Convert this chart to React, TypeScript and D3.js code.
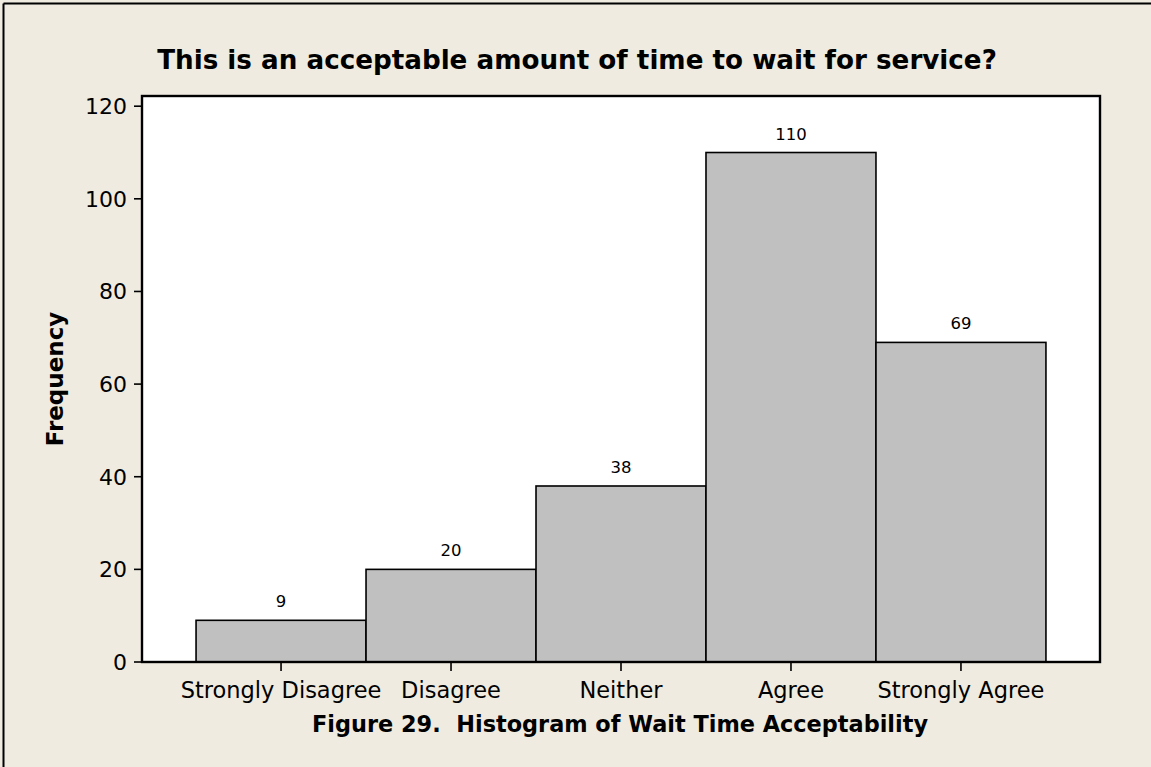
import React from "react";
import * as d3 from "d3";

const categories = ["Strongly Disagree", "Disagree", "Neither", "Agree", "Strongly Agree"];
const frequencies = [9, 20, 38, 110, 69];
const yTicks = [0, 20, 40, 60, 80, 100, 120];
const title = "This is an acceptable amount of time to wait for service?";
const caption = "Figure 29.  Histogram of Wait Time Acceptability";
const yLabel = "Frequency";

const W = 1151;
const H = 767;
const plot = { left: 142, right: 1100, top: 96, bottom: 662 };
const font = "'DejaVu Sans', Verdana, sans-serif";

export default function App() {
  const x = d3
    .scaleBand<string>()
    .domain(categories)
    .range([plot.left, plot.right])
    .paddingInner(0)
    .paddingOuter(0.318);
  const y = d3.scaleLinear().domain([0, 122.2]).range([plot.bottom, plot.top]);

  return (
    <svg
      width={W}
      height={H}
      style={{ position: "absolute", left: 0, top: 0 }}
      fontFamily={font}
    >
      <rect x={0} y={0} width={W} height={H} fill="#EFEBE1" />
      <line x1={3.5} y1={3.5} x2={W + 5} y2={3.5} stroke="#000" strokeWidth={2} />
      <line x1={3.5} y1={3.5} x2={3.5} y2={H + 5} stroke="#000" strokeWidth={2} />

      <text x={577} y={69} textAnchor="middle" fontSize={26.2} fontWeight="bold" fill="#000">
        {title}
      </text>

      <rect
        x={plot.left}
        y={plot.top}
        width={plot.right - plot.left}
        height={plot.bottom - plot.top}
        fill="#fff"
      />

      {categories.map((c, i) => (
        <g key={c}>
          <rect
            x={x(c)}
            y={y(frequencies[i])}
            width={x.bandwidth()}
            height={y(0) - y(frequencies[i])}
            fill="#C0C0C0"
            stroke="#000"
            strokeWidth={1.6}
          />
          <text
            x={(x(c) as number) + x.bandwidth() / 2}
            y={y(frequencies[i]) - 13}
            textAnchor="middle"
            fontSize={16.5}
            fill="#000"
          >
            {frequencies[i]}
          </text>
        </g>
      ))}

      <rect
        x={plot.left}
        y={plot.top}
        width={plot.right - plot.left}
        height={plot.bottom - plot.top}
        fill="none"
        stroke="#000"
        strokeWidth={2.4}
      />

      {yTicks.map((t) => (
        <g key={t}>
          <line x1={plot.left - 8} x2={plot.left} y1={y(t)} y2={y(t)} stroke="#000" strokeWidth={1.6} />
          <text x={127} y={y(t)} dy="0.36em" textAnchor="end" fontSize={22} fill="#000">
            {t}
          </text>
        </g>
      ))}

      {categories.map((c) => {
        const cx = (x(c) as number) + x.bandwidth() / 2;
        return (
          <g key={"t" + c}>
            <line x1={cx} x2={cx} y1={plot.bottom} y2={plot.bottom + 9} stroke="#000" strokeWidth={1.6} />
            <text x={cx} y={698} textAnchor="middle" fontSize={22.5} fill="#000">
              {c}
            </text>
          </g>
        );
      })}

      <text
        transform={`translate(63, ${(plot.top + plot.bottom) / 2}) rotate(-90)`}
        textAnchor="middle"
        fontSize={23}
        fontWeight="bold"
        fill="#000"
      >
        {yLabel}
      </text>

      <text x={620} y={732} textAnchor="middle" fontSize={22.4} fontWeight="bold" fill="#000" xmlSpace="preserve">
        {caption}
      </text>
    </svg>
  );
}
